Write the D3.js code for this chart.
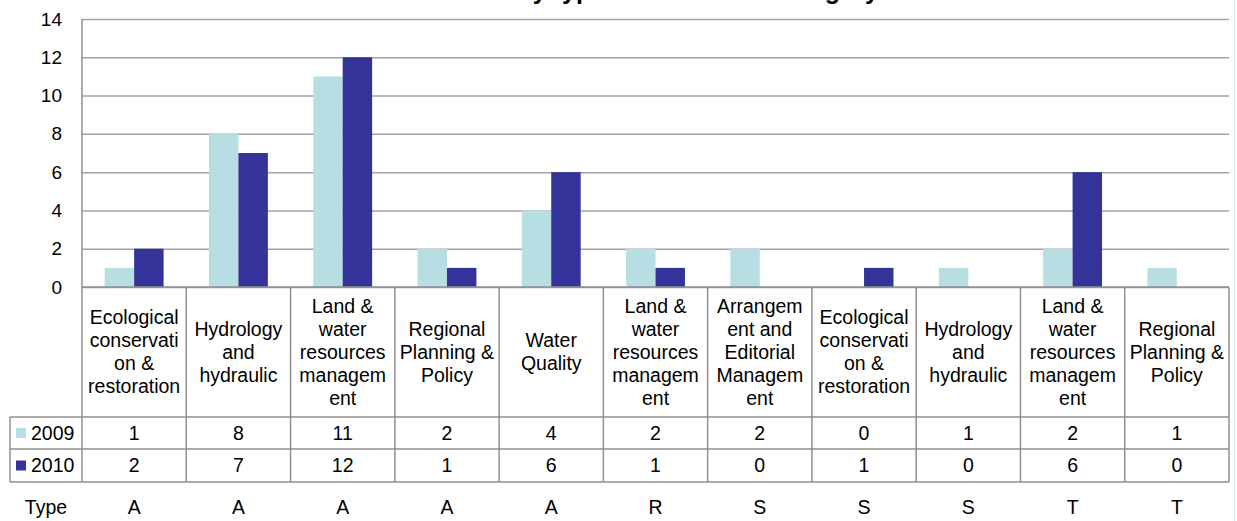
<!DOCTYPE html>
<html lang="en">
<head>
    <meta charset="UTF-8">
    <title>Projects by type</title>
    <script src="https://d3js.org/d3.v7.min.js"></script>
    <style>
        body { margin: 0; background: #fff; }
        text { font-family: "Liberation Sans", Arial, sans-serif; fill: #000; }
    </style>
</head>
<body>

<div id="my_dataviz"></div>

<script>
    // category labels, already broken into lines the way the table shows them
    var categories = [
        ["Ecological", "conservati", "on &", "restoration"],
        ["Hydrology", "and", "hydraulic"],
        ["Land &", "water", "resources", "managem", "ent"],
        ["Regional", "Planning &", "Policy"],
        ["Water", "Quality"],
        ["Land &", "water", "resources", "managem", "ent"],
        ["Arrangem", "ent and", "Editorial", "Managem", "ent"],
        ["Ecological", "conservati", "on &", "restoration"],
        ["Hydrology", "and", "hydraulic"],
        ["Land &", "water", "resources", "managem", "ent"],
        ["Regional", "Planning &", "Policy"]
    ];
    var values2009 = [1, 8, 11, 2, 4, 2, 2, 0, 1, 2, 1];
    var values2010 = [2, 7, 12, 1, 6, 1, 0, 1, 0, 6, 0];
    var types = ["A", "A", "A", "A", "A", "R", "S", "S", "S", "T", "T"];
    var seriesNames = ["2009", "2010"];
    var yTicks = [0, 2, 4, 6, 8, 10, 12, 14];

    var colors = {"2009": "#b7dfe3", "2010": "#333399"};
    var lineColor = "#8f8f8f";

    var width = 1237, height = 521;
    var plot = {left: 82, right: 1229, top: 19, bottom: 287};
    var rows = {header: 417, r2009: 449, r2010: 482, type: 507};

    var svg = d3.select("#my_dataviz").append("svg")
        .attr("width", width)
        .attr("height", height);

    // title, mostly cut off above the picture (only descenders show)
    svg.append("text")
        .attr("x", 585)
        .attr("y", -1.5)
        .attr("text-anchor", "middle")
        .style("font-size", "25px")
        .style("font-weight", "bold")
        .text("Number of studies by type and research category");

    var idx = d3.range(categories.length);

    var x = d3.scaleBand()
        .domain(idx)
        .range([plot.left, plot.right]);

    var x1 = d3.scaleBand()
        .domain(seriesNames)
        .range([0, x.bandwidth()])
        .paddingOuter(0.77);

    var y = d3.scaleLinear()
        .domain([0, 14])
        .range([plot.bottom, plot.top]);

    // gridlines + y labels
    var yAxis = svg.append("g")
        .attr("transform", "translate(" + plot.left + ",0)")
        .call(d3.axisLeft(y).tickValues(yTicks).tickSize(-(plot.right - plot.left)).tickPadding(20));
    yAxis.select(".domain").remove();
    yAxis.selectAll(".tick line")
        .attr("stroke", "#a3a3a3")
        .attr("stroke-width", 1.5);
    yAxis.selectAll(".tick text")
        .style("font-size", "19px")
        .style("font-family", "Liberation Sans, Arial, sans-serif")
        .attr("fill", "#000");

    // left axis line
    svg.append("line")
        .attr("x1", plot.left).attr("x2", plot.left)
        .attr("y1", plot.top).attr("y2", plot.bottom)
        .attr("stroke", lineColor).attr("stroke-width", 1.5);

    // bars
    var series = [
        {name: "2009", values: values2009},
        {name: "2010", values: values2010}
    ];
    svg.append("g").selectAll("g")
        .data(series)
        .join("g")
        .attr("fill", function(d) { return colors[d.name]; })
        .selectAll("rect")
        .data(function(d) { return d.values.map(function(v, i) { return {name: d.name, v: v, i: i}; }); })
        .join("rect")
        .attr("x", function(d) { return x(d.i) + x1(d.name); })
        .attr("width", x1.bandwidth())
        .attr("y", function(d) { return y(d.v); })
        .attr("height", function(d) { return y(0) - y(d.v); });

    // zero line / top of table
    svg.append("line")
        .attr("x1", plot.left).attr("x2", plot.right)
        .attr("y1", plot.bottom).attr("y2", plot.bottom)
        .attr("stroke", lineColor).attr("stroke-width", 1.5);

    // table grid
    var table = svg.append("g")
        .attr("stroke", lineColor)
        .attr("stroke-width", 1.5);
    var bounds = idx.map(function(i) { return x(i); }).concat([plot.right]);
    table.selectAll("line.v")
        .data(bounds)
        .join("line")
        .attr("x1", function(d) { return d; }).attr("x2", function(d) { return d; })
        .attr("y1", plot.bottom).attr("y2", rows.r2010);
    table.selectAll("line.h")
        .data([rows.header, rows.r2009, rows.r2010])
        .join("line")
        .attr("x1", 10).attr("x2", plot.right)
        .attr("y1", function(d) { return d; }).attr("y2", function(d) { return d; });
    table.append("line")
        .attr("x1", 10).attr("x2", 10)
        .attr("y1", rows.header).attr("y2", rows.r2010);

    // category header text
    var lh = 23;
    var headerMid = (plot.bottom + rows.header) / 2;
    svg.append("g").selectAll("text")
        .data(categories)
        .join("text")
        .attr("text-anchor", "middle")
        .style("font-size", "19.5px")
        .attr("transform", function(d, i) {
            return "translate(" + (x(i) + x.bandwidth() / 2) + "," + (headerMid - (d.length - 1) * lh / 2) + ")";
        })
        .selectAll("tspan")
        .data(function(d) { return d; })
        .join("tspan")
        .attr("x", 0)
        .attr("y", function(d, j) { return j * lh; })
        .attr("dy", "0.35em")
        .text(function(d) { return d; });

    // value rows
    var rowMids = [(rows.header + rows.r2009) / 2, (rows.r2009 + rows.r2010) / 2];
    series.forEach(function(s, k) {
        svg.append("rect")
            .attr("x", 16).attr("y", rowMids[k] - 5)
            .attr("width", 10).attr("height", 10)
            .attr("fill", colors[s.name]);
        svg.append("text")
            .attr("x", 31).attr("y", rowMids[k])
            .attr("dy", "0.35em")
            .style("font-size", "19.5px")
            .text(s.name);
        svg.append("g").selectAll("text")
            .data(s.values)
            .join("text")
            .attr("x", function(d, i) { return x(i) + x.bandwidth() / 2; })
            .attr("y", rowMids[k])
            .attr("dy", "0.35em")
            .attr("text-anchor", "middle")
            .style("font-size", "19.5px")
            .text(function(d) { return d; });
    });

    // type row
    svg.append("text")
        .attr("x", 46).attr("y", rows.type)
        .attr("dy", "0.35em")
        .attr("text-anchor", "middle")
        .style("font-size", "19.5px")
        .text("Type");
    svg.append("g").selectAll("text")
        .data(types)
        .join("text")
        .attr("x", function(d, i) { return x(i) + x.bandwidth() / 2; })
        .attr("y", rows.type)
        .attr("dy", "0.35em")
        .attr("text-anchor", "middle")
        .style("font-size", "19.5px")
        .text(function(d) { return d; });

    // faint frame edge on the right
    svg.append("line")
        .attr("x1", 1234.5).attr("x2", 1234.5)
        .attr("y1", 0).attr("y2", height)
        .attr("stroke", "#d3edf2").attr("stroke-width", 1);
</script>

</body>
</html>
